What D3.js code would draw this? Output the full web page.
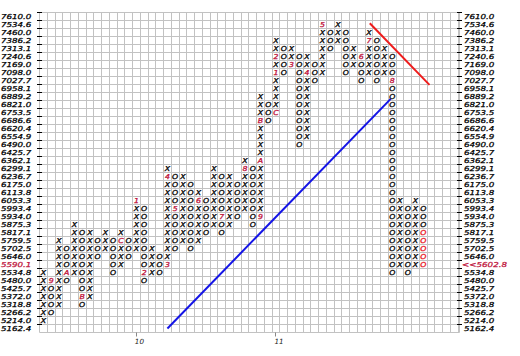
<!DOCTYPE html>
<html lang="en">
<head>
<meta charset="UTF-8">
<title>Point and Figure</title>
<script src="https://d3js.org/d3.v7.min.js"></script>
<style>
  body { margin: 0; background: #fff; }
  svg text { font-family: "DejaVu Sans", Verdana, sans-serif; font-style: italic; }
</style>
</head>
<body>
<div id="chart"></div>
<script>
// box prices, top row first
var boxes = [7610.0, 7534.6, 7460.0, 7386.2, 7313.1, 7240.6, 7169.0, 7098.0, 7027.7, 6958.1,
             6889.2, 6821.0, 6753.5, 6686.6, 6620.4, 6554.9, 6490.0, 6425.7, 6362.1, 6299.1,
             6236.7, 6175.0, 6113.8, 6053.3, 5993.4, 5934.0, 5875.3, 5817.1, 5759.5, 5702.5,
             5646.0, 5590.1, 5534.8, 5480.0, 5425.7, 5372.0, 5318.8, 5266.2, 5214.0, 5162.4];

// one entry per column: type, highest box, lowest box
var colTypes = ["X","O","X","O","X","O","X","O","X","O",
                "X","O","X","O","X","O","X","O","X","O",
                "X","O","X","O","X","O","X","O","X","O",
                "X","O","X","O","X","O","X","O","X","O",
                "X","O","X","O","X","O","X","O","X","O"];
var colHigh = [5534.8, 5480.0, 5759.5, 5702.5, 5875.3, 5817.1, 5817.1, 5759.5, 5817.1, 5759.5,
               5817.1, 5759.5, 6053.3, 5993.4, 5702.5, 5646.0, 6299.1, 6236.7, 6236.7, 6175.0,
               6113.8, 6053.3, 6299.1, 6236.7, 6236.7, 6175.0, 6362.1, 6299.1, 6889.2, 6821.0,
               7386.2, 7313.1, 7313.1, 7240.6, 7240.6, 7169.0, 7534.6, 7460.0, 7534.6, 7460.0,
               7313.1, 7240.6, 7460.0, 7386.2, 7313.1, 7240.6, 6053.3, 5993.4, 6053.3, 5993.4];
var colLow  = [5214.0, 5266.2, 5318.8, 5480.0, 5534.8, 5318.8, 5372.0, 5646.0, 5702.5, 5534.8,
               5590.1, 5646.0, 5702.5, 5480.0, 5534.8, 5534.8, 5590.1, 5702.5, 5759.5, 5702.5,
               5759.5, 5817.1, 5875.3, 5817.1, 5875.3, 5934.0, 5993.4, 5875.3, 5934.0, 6686.6,
               6753.5, 7098.0, 7169.0, 6490.0, 6554.9, 7027.7, 7098.0, 7313.1, 7386.2, 7098.0,
               7169.0, 7027.7, 7098.0, 7027.7, 7098.0, 5534.8, 5590.1, 5534.8, 5590.1, 5590.1];

// month markers: column, box, label
var monthCols   = [1, 3, 5, 10, 12, 13, 16, 16, 17, 20, 23, 26, 28, 28, 28, 30, 30, 30, 32, 34, 36, 41, 42, 45];
var monthBoxes  = [5480.0, 5534.8, 5372.0, 5759.5, 6053.3, 5534.8, 5590.1, 6236.7, 5993.4, 6053.3,
                   5934.0, 6299.1, 5934.0, 6362.1, 6686.6, 6753.5, 7098.0, 7240.6, 7169.0, 7098.0,
                   7534.6, 7240.6, 7386.2, 7027.7];
var monthLabels = ["9","A","B","C","1","2","3","4","5","6","7","8","9","A","B","C","1","2","3","4","5","6","7","8"];

// boxes of the running (unfinished) column
var liveCol = 49;
var liveBoxes = [5817.1, 5759.5, 5702.5, 5646.0, 5590.1];
var lastPrice = 5602.8;

// year labels on the time axis
var yearCols = [12, 30];
var yearLabels = ["10", "11"];

// trend lines, in column / box-row units
var supportLine = [[16, 39], [44.8, 10.3]];
var resistLine = [[42.1, 0.85], [49.8, 8.55]];

var W = 520, H = 356;
var gridLeft = 39.5, gridRight = 459.5, gridTop = 12.5, gridBottom = 332.5;
var nGridCols = 54.17;
var fs = 6.8, stretch = 1.28, markStretch = 1.15;

var svg = d3.select("#chart").append("svg")
    .attr("width", W)
    .attr("height", H);

var x = d3.scaleLinear().domain([0, nGridCols]).range([gridLeft, gridRight]);
var y = d3.scaleBand().domain(boxes).range([gridTop, gridBottom]).padding(0);
var yRow = d3.scaleLinear().domain([0, boxes.length]).range([gridTop, gridBottom]);
var bw = y.bandwidth();
var crisp = function(v) { return Math.round(v - 0.5) + 0.5; };

// grid
var grid = svg.append("g").attr("stroke", "#c2c2c2").attr("stroke-width", 1);
d3.range(0, Math.floor(nGridCols) + 1).forEach(function(j) {
    grid.append("line")
        .attr("x1", crisp(x(j))).attr("x2", crisp(x(j)))
        .attr("y1", gridTop).attr("y2", gridBottom);
});
grid.append("line")
    .attr("x1", gridRight).attr("x2", gridRight)
    .attr("y1", gridTop).attr("y2", gridBottom);
boxes.concat([null]).forEach(function(b, i) {
    var yy = crisp(yRow(i));
    grid.append("line")
        .attr("x1", gridLeft).attr("x2", gridRight)
        .attr("y1", yy).attr("y2", yy);
});

// price axes (both sides)
var labelColor = function(b) { return b === 5590.1 ? "#c0143c" : "#000"; };
svg.append("g").selectAll("line").data(boxes).join("line")
    .attr("x1", 37).attr("x2", 42)
    .attr("y1", function(b) { return crisp(y(b)); })
    .attr("y2", function(b) { return crisp(y(b)); })
    .attr("stroke", "#000");
svg.append("g").selectAll("line").data(boxes).join("line")
    .attr("x1", 457).attr("x2", 462)
    .attr("y1", function(b) { return crisp(y(b)); })
    .attr("y2", function(b) { return crisp(y(b)); })
    .attr("stroke", "#000");
svg.append("g").attr("transform", "scale(" + stretch + ",1)")
    .selectAll("text").data(boxes).join("text")
    .attr("x", 1 / stretch)
    .attr("y", function(b) { return y(b) + bw / 2 + 2.6; })
    .attr("font-size", fs)
    .attr("fill", labelColor)
    .attr("stroke", labelColor)
    .attr("stroke-width", 0.25)
    .text(function(b) { return b.toFixed(1); });
svg.append("g").attr("transform", "scale(" + stretch + ",1)")
    .selectAll("text").data(boxes).join("text")
    .attr("x", function(b) { return (b === 5590.1 ? 462 : 464) / stretch; })
    .attr("y", function(b) { return y(b) + bw / 2 + 2.6; })
    .attr("font-size", fs)
    .attr("fill", labelColor)
    .attr("stroke", labelColor)
    .attr("stroke-width", 0.25)
    .text(function(b) { return b === 5590.1 ? "<<" + lastPrice.toFixed(1) : b.toFixed(1); });

// time axis
svg.append("g").selectAll("line").data(yearCols).join("line")
    .attr("x1", function(c) { return crisp(x(c + 0.5)); })
    .attr("x2", function(c) { return crisp(x(c + 0.5)); })
    .attr("y1", gridBottom).attr("y2", gridBottom + 4)
    .attr("stroke", "#888");
svg.append("g").selectAll("text").data(yearCols).join("text")
    .attr("x", function(c) { return x(c + 0.5) + 3; })
    .attr("y", gridBottom + 11)
    .attr("text-anchor", "middle")
    .attr("font-size", 7.2)
    .attr("fill", "#222")
    .text(function(c, i) { return yearLabels[i]; });

// X and O boxes
var marks = [];
colTypes.forEach(function(t, k) {
    var hi = boxes.indexOf(colHigh[k]), lo = boxes.indexOf(colLow[k]);
    for (var r = hi; r <= lo; r++) {
        var b = boxes[r];
        var m = -1;
        for (var i = 0; i < monthCols.length; i++) {
            if (monthCols[i] === k && monthBoxes[i] === b) m = i;
        }
        var live = (k === liveCol && liveBoxes.indexOf(b) >= 0);
        marks.push({col: k, box: b,
                    label: m >= 0 ? monthLabels[m] : t,
                    color: m >= 0 ? "#c0143c" : (live ? "#e8141e" : "#000")});
    }
});
svg.append("g").attr("transform", "scale(" + markStretch + ",1)")
    .selectAll("text").data(marks).join("text")
    .attr("x", function(d) { return x(d.col + 0.5) / markStretch; })
    .attr("y", function(d) { return y(d.box) + bw / 2 + 2.6; })
    .attr("text-anchor", "middle")
    .attr("font-size", fs)
    .attr("fill", function(d) { return d.color; })
    .attr("stroke", function(d) { return d.color; })
    .attr("stroke-width", 0.3)
    .text(function(d) { return d.label; });

// trend lines
var trend = d3.line()
    .x(function(p) { return x(p[0] + 0.5); })
    .y(function(p) { return yRow(p[1] + 0.5); });
svg.append("path").datum(supportLine)
    .attr("d", trend)
    .attr("fill", "none")
    .attr("stroke", "#1414e6")
    .attr("stroke-width", 2);
svg.append("path").datum(resistLine)
    .attr("d", trend)
    .attr("fill", "none")
    .attr("stroke", "#ee1c1c")
    .attr("stroke-width", 2);
</script>
</body>
</html>
